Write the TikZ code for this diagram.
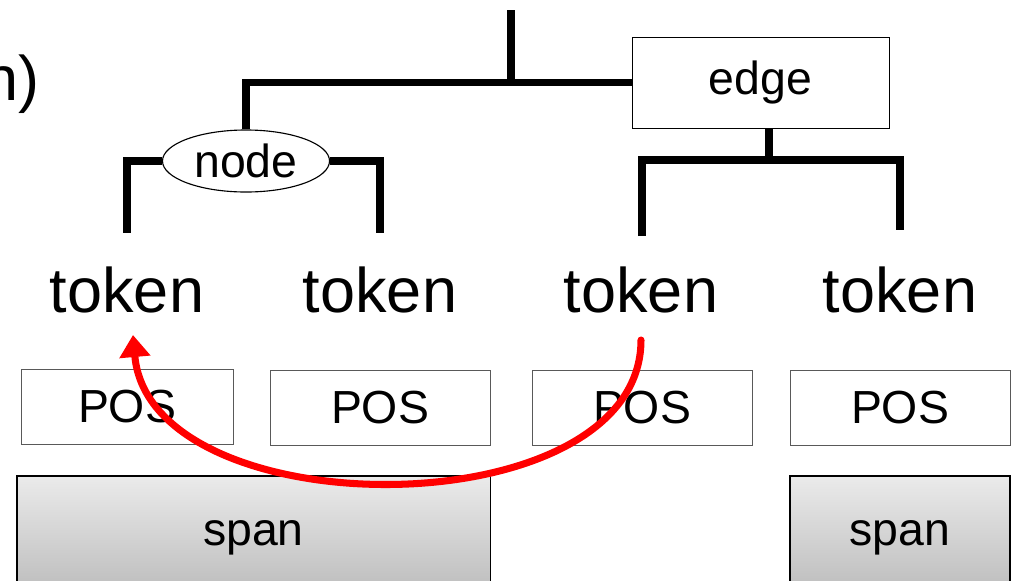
\documentclass[tikz,border=0pt]{standalone}
\usepackage{fontspec}
\setmainfont{Liberation Sans}
\usetikzlibrary{shapes.geometric, arrows.meta, positioning, calc}

\begin{document}
\begin{tikzpicture}[
		x=0.025cm, y=-0.025cm,
		Tree/.style={line width=5.3pt, line join=miter},
		Back/.style={draw=red, line width=5pt, line cap=round,
			-{Triangle[length=0.55cm, width=0.75cm]}}
	]
	\tikzstyle{Token} = [anchor=base, inner sep=0pt, font=\fontsize{44.8}{50}\selectfont]
	\tikzstyle{Pos} = [
		draw=black!65,
		minimum width=5.5cm,
		minimum height=1.875cm,
		inner sep=0pt,
		font=\fontsize{33}{38}\selectfont
	]
	\tikzstyle{Span} = [
		draw=black, line width=0.8pt,
		top color=black!8, bottom color=black!27,
		minimum height=3.075cm,
		inner sep=0pt,
		font=\fontsize{33}{38}\selectfont
	]
	\useasboundingbox (0,0) rectangle (1013,580);
	\clip (0,0) rectangle (1013,580);

	% cut off title
	\node (title) [anchor=base east, inner sep=0pt, font=\fontsize{44.8}{50}\selectfont] at (40,100) {n)};

	% tokens
	\node (tok1) [Token] at (127,312) {token};
	\node (tok2) [Token] at (380,312) {token};
	\node (tok3) [Token] at (641,312) {token};
	\node (tok4) [Token] at (900,312) {token};

	% pos tags
	\node (pos1) [Pos, minimum width=5.3cm] at (127,406.5) {POS};
	\node (pos2) [Pos] at (380,408) {POS};
	\node (pos3) [Pos] at (642,408) {POS};
	\node (pos4) [Pos] at (900,408) {POS};

	% spans
	\node (span1) [Span, minimum width=11.825cm] at (253.5,537.5) {span};
	\node (span2) [Span, minimum width=5.5cm] at (900,537.5) {span};

	% tree
	\node (nodeN) [draw, line width=0.8pt, ellipse, minimum width=4.175cm, minimum height=1.55cm, inner sep=0pt,
		font=\fontsize{33}{38}\selectfont] at (246,161) {node};
	\node (edgeN) [draw, line width=0.6pt, minimum width=6.425cm, minimum height=2.275cm, inner sep=0pt,
		font=\fontsize{33}{38}\selectfont] at (760.5,82.5) {edge};

	\coordinate (root) at (511,10);
	\coordinate (rootJ) at (511,85);
	\coordinate (leafA) at (127,233);
	\coordinate (leafB) at (380,233);
	\coordinate (edgeJ) at (769,160);
	\coordinate (leafC) at (642,236);
	\coordinate (leafD) at (900,230);

	\draw [Tree] (root) -- (rootJ);
	\draw [Tree] (nodeN.north) |- (edgeN.west);
	\draw [Tree] (nodeN.west) -| (leafA);
	\draw [Tree] (nodeN.east) -| (leafB);
	\draw [Tree] (edgeN.south -| edgeJ) -- (edgeJ);
	\draw [Tree] (leafC) |- (edgeJ) -| (leafD);

	% link back
	\coordinate (arrS) at (641,340);
	\coordinate (arrE) at (133,335);
	\draw [Back] (arrS) .. controls (641,530) and (150,530) .. (arrE);
\end{tikzpicture}
\end{document}
